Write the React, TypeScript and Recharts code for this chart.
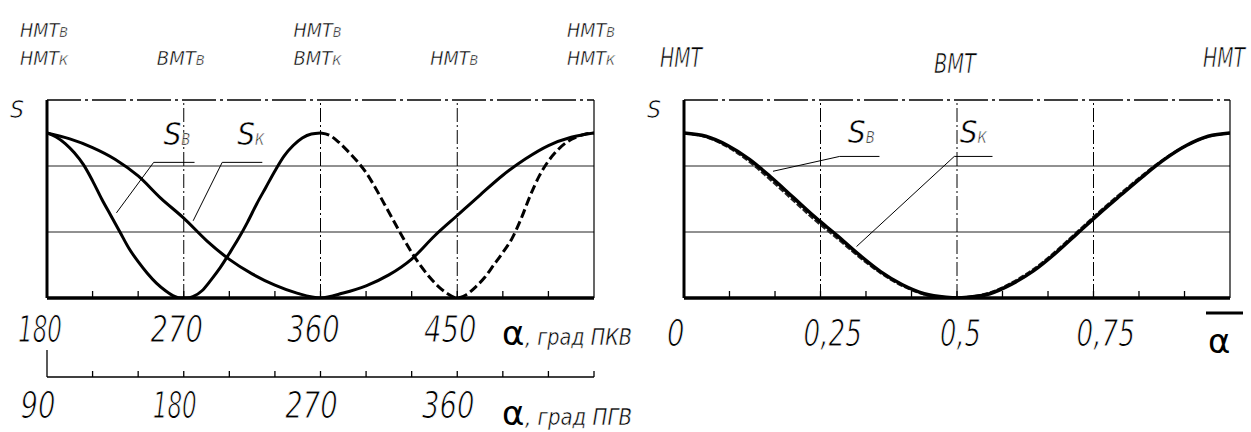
import React from 'react';
import { LineChart, Line, XAxis, YAxis, ReferenceLine, ReferenceDot } from 'recharts';

// ---------- data: left chart (crank angle, degrees) ----------
const SB_SOLID_A = [180, 186, 192, 198, 204, 210, 216, 222, 228, 234, 240, 246, 252, 258, 264, 268, 272, 276, 282, 288, 294, 300, 306, 312, 318, 324, 330, 336, 342, 348, 354, 360];
const SB_SOLID_S = [5, 4.88, 4.68, 4.4, 4.04, 3.55, 3.0, 2.5, 2.0, 1.5, 1.1, 0.75, 0.45, 0.22, 0.05, 0, 0, 0.04, 0.22, 0.55, 0.92, 1.35, 1.8, 2.3, 2.85, 3.35, 3.85, 4.3, 4.62, 4.85, 4.97, 5];
const SB_DASH_A = [360, 366, 372, 378, 384, 390, 396, 402, 408, 414, 420, 426, 432, 438, 444, 448, 450, 452, 456, 462, 468, 474, 480, 486, 492, 498, 504, 510, 516, 522, 528, 534, 540];
const SB_DASH_S = [5, 4.93, 4.72, 4.45, 4.15, 3.8, 3.35, 2.85, 2.35, 1.85, 1.38, 0.97, 0.62, 0.33, 0.12, 0.02, 0, 0.02, 0.1, 0.33, 0.62, 1.0, 1.38, 1.8, 2.4, 3.1, 3.7, 4.15, 4.48, 4.72, 4.87, 4.96, 5];
const SK_A = [180, 195, 210, 225, 240, 255, 270, 285, 300, 315, 330, 345, 360, 375, 390, 405, 420, 435, 450, 465, 480, 495, 510, 525, 540];
const SK_S = [5, 4.82, 4.56, 4.2, 3.7, 3.02, 2.42, 1.74, 1.17, 0.73, 0.39, 0.14, 0, 0.15, 0.37, 0.7, 1.18, 1.88, 2.5, 3.12, 3.72, 4.22, 4.62, 4.87, 5];

const PKV_TICKS = [180, 210, 240, 270, 300, 330, 360, 390, 420, 450, 480, 510, 540];
const PKV_LABELS = ['180', '', '', '270', '', '', '360', '', '', '450', '', '', ''];
const PGV_TICKS = [90, 120, 150, 180, 210, 240, 270, 300, 330, 360, 390, 420, 450];
const PGV_LABELS = ['90', '', '', '180', '', '', '270', '', '', '360', '', '', ''];
const TOP_L_TICKS = [180, 270, 360, 450, 540];
const TOP_L_ROW1 = ['НМТ', '', 'НМТ', '', 'НМТ'];
const TOP_L_ROW1_SUB = ['В', '', 'В', '', 'В'];
const TOP_L_ROW2 = ['НМТ', 'ВМТ', 'ВМТ', 'НМТ', 'НМТ'];
const TOP_L_ROW2_SUB = ['К', 'В', 'К', 'В', 'К'];
const L_MARKS = [270, 360, 450];
const GRID_LEVELS = [2, 4];
const TOP_LEVEL = 6;
const L_SB_LEADER = [[277.1, 4.11], [250.2, 4.11], [225.7, 2.58]];
const L_SK_LEADER = [[321.7, 4.11], [295.3, 4.11], [276.2, 2.34]];
const L_SB_LABEL = [256.6, 4.64];
const L_SK_LABEL = [305.2, 4.64];

// ---------- data: right chart (relative angle) ----------
const R_A = [0, 0.04, 0.08, 0.12, 0.16, 0.2, 0.24, 0.28, 0.32, 0.36, 0.4, 0.44, 0.48, 0.5, 0.52, 0.56, 0.6, 0.64, 0.68, 0.72, 0.76, 0.8, 0.84, 0.88, 0.92, 0.96, 1];
const R_SB = [5, 4.9, 4.62, 4.2, 3.65, 3.05, 2.45, 1.9, 1.32, 0.8, 0.4, 0.13, 0.02, 0, 0.02, 0.13, 0.42, 0.82, 1.35, 1.95, 2.55, 3.12, 3.68, 4.2, 4.62, 4.9, 5];
const R_SK = [5, 4.88, 4.58, 4.13, 3.56, 2.96, 2.36, 1.82, 1.26, 0.76, 0.37, 0.11, 0.02, 0, 0.03, 0.16, 0.46, 0.87, 1.4, 2.0, 2.6, 3.17, 3.72, 4.22, 4.62, 4.89, 5];
const ALPHA_TICKS = [0, 0.0833, 0.1667, 0.25, 0.3333, 0.4167, 0.5, 0.5833, 0.6667, 0.75, 0.8333, 0.9167, 1];
const ALPHA_LABELS = ['0', '', '', '0,25', '', '', '0,5', '', '', '0,75', '', '', ''];
const TOP_R_TICKS = [0, 0.5, 1];
const TOP_R_LABELS = ['НМТ', 'ВМТ', 'НМТ'];
const R_MARKS = [0.25, 0.5, 0.75];
const R_SB_LEADER = [[0.358, 4.29], [0.285, 4.29], [0.163, 3.84]];
const R_SK_LEADER = [[0.565, 4.29], [0.495, 4.29], [0.316, 1.56]];
const R_SB_LABEL = [0.3, 4.7];
const R_SK_LABEL = [0.505, 4.7];

const toRows = (xs: number[], ys: number[]) => xs.map((a, i) => ({ a, s: ys[i] }));
const seg = (p: number[][], i: number) => [{ x: p[i][0], y: p[i][1] }, { x: p[i + 1][0], y: p[i + 1][1] }];

const FONT = "'DejaVu Sans', 'Liberation Sans', 'Noto Sans', sans-serif";
const INK = '#000';
const DASH_DOT_H = '34 4 3 4';
const DASH_DOT_V = '14 3 2 3';

const charW = (c: string) => (c === '1' ? 9 : c === ',' ? 6 : 17.5);
const strW = (t: string) => t.split('').reduce((s, c) => s + charW(c), 0);

// thin strokes: a white outline painted over the fill narrows the glyphs
const GText = ({ x, y, size, len, children, thinW = 0.7 }: any) => (
  <text x={x} y={y} fontFamily={FONT} fontSize={size} fontStyle="italic"
    textLength={len} lengthAdjust="spacingAndGlyphs" fill={INK} stroke="#fff" strokeWidth={thinW}>{children}</text>
);

const NumText = ({ x, y, text }: any) => {
  const w = strW(text);
  return <GText x={x - w / 2} y={y} size={38} len={w} thinW={1.1}>{text}</GText>;
};

const SubText = ({ x, y, main, sub, size, mainLen, subSize, subLen }: any) => (
  <text x={x} y={y} fontFamily={FONT} fontSize={size} fontStyle="italic" fill={INK} stroke="#fff" strokeWidth={0.5}
    textLength={mainLen + subLen + 1} lengthAdjust="spacingAndGlyphs">
    {main}
    {sub ? <tspan fontSize={subSize}>{sub}</tspan> : null}
  </text>
);

const AxisName = ({ x, y, text }: any) => (
  <g>
    <text x={x} y={y} fontFamily={FONT} fontSize={34} fill={INK}>α</text>
    <GText x={x + 23} y={y} size={23} len={107} thinW={0.5}>{text}</GText>
  </g>
);

const PkvTick = (props: any) => {
  const { x, y, payload } = props;
  const v = payload.value;
  const i = PKV_TICKS.indexOf(v);
  const label = PKV_LABELS[i] || '';
  const first = i === 0;
  const last = i === PKV_TICKS.length - 1;
  return (
    <g>
      {!first && !last && <line x1={x} x2={x} y1={y} y2={y - 7} stroke={INK} strokeWidth={1.3} />}
      {label && <NumText x={x - 7} y={y + 44} text={label} />}
      {last && <AxisName x={x - 92} y={y + 47} text=",  град ПКВ" />}
    </g>
  );
};

const PgvTick = (props: any) => {
  const { x, y, payload } = props;
  const v = payload.value;
  const i = PGV_TICKS.indexOf(v);
  const label = PGV_LABELS[i] || '';
  const first = i === 0;
  const last = i === PGV_TICKS.length - 1;
  return (
    <g>
      <line x1={x} x2={x} y1={y} y2={first ? y - 27 : y - 6} stroke={INK} strokeWidth={1.3} />
      {label && <NumText x={x - 9} y={y + 41} text={label} />}
      {last && <AxisName x={x - 92} y={y + 48} text=",  град ПГВ" />}
    </g>
  );
};

const TopLTick = (props: any) => {
  const { x, y, payload } = props;
  const i = TOP_L_TICKS.indexOf(payload.value);
  return (
    <g>
      {TOP_L_ROW1[i] && <SubText x={x - 27} y={y - 63} main={TOP_L_ROW1[i]} sub={TOP_L_ROW1_SUB[i]} size={20} mainLen={37} subSize={14.5} subLen={10} />}
      {TOP_L_ROW2[i] && <SubText x={x - 27} y={y - 35} main={TOP_L_ROW2[i]} sub={TOP_L_ROW2_SUB[i]} size={20} mainLen={37} subSize={14.5} subLen={10} />}
    </g>
  );
};

const TOP_R_DY = [-33, -27, -33];
const TOP_R_DX = [-24, -23, -27];
const TopRTick = (props: any) => {
  const { x, y, payload } = props;
  const i = TOP_R_TICKS.indexOf(payload.value);
  return <GText x={x + TOP_R_DX[i]} y={y + TOP_R_DY[i]} size={26} len={42}>{TOP_R_LABELS[i]}</GText>;
};

const AlphaTick = (props: any) => {
  const { x, y, payload } = props;
  const i = ALPHA_TICKS.indexOf(payload.value);
  const label = ALPHA_LABELS[i] || '';
  const first = i === 0;
  const last = i === ALPHA_TICKS.length - 1;
  return (
    <g>
      {!first && !last && <line x1={x} x2={x} y1={y} y2={y - 7} stroke={INK} strokeWidth={1.3} />}
      {label && <GText x={x - 17} y={y + 48} size={38} len={strW(label)} thinW={1.1}>{label}</GText>}
      {last && (
        <g>
          <line x1={x - 24} x2={x + 13} y1={y + 15} y2={y + 15} stroke={INK} strokeWidth={3} />
          <text x={x - 22} y={y + 55} fontFamily={FONT} fontSize={34} fill={INK}>α</text>
        </g>
      )}
    </g>
  );
};

const STick = (props: any) => {
  const { x, y } = props;
  return <GText x={x - 37} y={y + 18} size={25} len={14}>S</GText>;
};

const labelShape = (sub: string) => (p: any) => (
  <text x={p.cx} y={p.cy} fontFamily={FONT} fontStyle="italic" fill={INK} stroke="#fff" strokeWidth={0.6}
    textLength={27} lengthAdjust="spacingAndGlyphs">
    <tspan fontSize={32}>S</tspan>
    <tspan fontSize={15}>{sub}</tspan>
  </text>
);

const thin = { stroke: INK, strokeWidth: 1 };

function LeftChart() {
  return (
    <LineChart width={650} height={432} margin={{ top: 0, right: 56, bottom: 0, left: 0 }}>
      <XAxis xAxisId="top" orientation="top" type="number" dataKey="a" domain={[180, 540]} allowDataOverflow
        ticks={TOP_L_TICKS} interval={0} height={100} axisLine={false} tickLine={false} tickSize={0} tickMargin={0} tick={<TopLTick />} />
      <XAxis xAxisId={0} type="number" dataKey="a" domain={[180, 540]} allowDataOverflow ticks={PKV_TICKS} interval={0}
        height={79} axisLine={{ stroke: INK, strokeWidth: 3.5 }} tickLine={false} tickSize={0} tickMargin={0} tick={<PkvTick />} />
      <XAxis xAxisId="pgv" type="number" dataKey="a" domain={[90, 450]} allowDataOverflow ticks={PGV_TICKS} interval={0}
        height={55} axisLine={{ stroke: INK, strokeWidth: 1.5 }} tickLine={false} tickSize={0} tickMargin={0} tick={<PgvTick />} />
      <YAxis type="number" domain={[0, 6]} allowDataOverflow ticks={[TOP_LEVEL]} width={47}
        axisLine={{ stroke: INK, strokeWidth: 3 }} tickLine={false} tickSize={0} tickMargin={0} tick={<STick />} />
      {GRID_LEVELS.map((g) => <ReferenceLine key={'g' + g} y={g} stroke="#222" strokeWidth={1} />)}
      <ReferenceLine y={TOP_LEVEL} stroke={INK} strokeWidth={1.3} strokeDasharray={DASH_DOT_H} />
      {L_MARKS.map((m) => <ReferenceLine key={'m' + m} x={m} stroke={INK} strokeWidth={1} strokeDasharray={DASH_DOT_V} />)}
      <ReferenceLine x={540} stroke={INK} strokeWidth={1.2} />
      <ReferenceLine segment={seg(L_SB_LEADER, 0)} {...thin} />
      <ReferenceLine segment={seg(L_SB_LEADER, 1)} {...thin} />
      <ReferenceLine segment={seg(L_SK_LEADER, 0)} {...thin} />
      <ReferenceLine segment={seg(L_SK_LEADER, 1)} {...thin} />
      <ReferenceDot x={L_SB_LABEL[0]} y={L_SB_LABEL[1]} r={0} shape={labelShape('В')} />
      <ReferenceDot x={L_SK_LABEL[0]} y={L_SK_LABEL[1]} r={0} shape={labelShape('К')} />
      <Line data={toRows(SK_A, SK_S)} dataKey="s" type="monotone" stroke={INK} strokeWidth={3} dot={false} isAnimationActive={false} />
      <Line data={toRows(SB_SOLID_A, SB_SOLID_S)} dataKey="s" type="monotone" stroke={INK} strokeWidth={3} dot={false} isAnimationActive={false} />
      <Line data={toRows(SB_DASH_A, SB_DASH_S)} dataKey="s" type="monotone" stroke={INK} strokeWidth={3} strokeDasharray="9 4" dot={false} isAnimationActive={false} />
    </LineChart>
  );
}

function RightChart() {
  return (
    <LineChart width={611} height={432} margin={{ top: 0, right: 21, bottom: 0, left: 0 }}>
      <XAxis xAxisId="top" orientation="top" type="number" dataKey="a" domain={[0, 1]} allowDataOverflow
        ticks={TOP_R_TICKS} interval={0} height={100} axisLine={false} tickLine={false} tickSize={0} tickMargin={0} tick={<TopRTick />} />
      <XAxis xAxisId={0} type="number" dataKey="a" domain={[0, 1]} allowDataOverflow ticks={ALPHA_TICKS} interval={0}
        height={134} axisLine={{ stroke: INK, strokeWidth: 3.5 }} tickLine={false} tickSize={0} tickMargin={0} tick={<AlphaTick />} />
      <YAxis type="number" domain={[0, 6]} allowDataOverflow ticks={[TOP_LEVEL]} width={44}
        axisLine={{ stroke: INK, strokeWidth: 3 }} tickLine={false} tickSize={0} tickMargin={0} tick={<STick />} />
      {GRID_LEVELS.map((g) => <ReferenceLine key={'g' + g} y={g} stroke="#222" strokeWidth={1} />)}
      <ReferenceLine y={TOP_LEVEL} stroke={INK} strokeWidth={1.3} strokeDasharray={DASH_DOT_H} />
      {R_MARKS.map((m) => <ReferenceLine key={'m' + m} x={m} stroke={INK} strokeWidth={1} strokeDasharray={DASH_DOT_V} />)}
      <ReferenceLine x={1} stroke={INK} strokeWidth={1.2} />
      <ReferenceLine segment={seg(R_SB_LEADER, 0)} {...thin} />
      <ReferenceLine segment={seg(R_SB_LEADER, 1)} {...thin} />
      <ReferenceLine segment={seg(R_SK_LEADER, 0)} {...thin} />
      <ReferenceLine segment={seg(R_SK_LEADER, 1)} {...thin} />
      <ReferenceDot x={R_SB_LABEL[0]} y={R_SB_LABEL[1]} r={0} shape={labelShape('В')} />
      <ReferenceDot x={R_SK_LABEL[0]} y={R_SK_LABEL[1]} r={0} shape={labelShape('К')} />
      <Line data={toRows(R_A, R_SK)} dataKey="s" type="monotone" stroke="#222" strokeWidth={2.5} strokeDasharray="6 2" dot={false} isAnimationActive={false} />
      <Line data={toRows(R_A, R_SB)} dataKey="s" type="monotone" stroke={INK} strokeWidth={3.5} dot={false} isAnimationActive={false} />
    </LineChart>
  );
}

export default function App() {
  return (
    <div style={{ position: 'absolute', left: 0, top: 0, width: 1251, height: 432, background: '#fff', overflow: 'hidden' }}>
      <div style={{ position: 'absolute', left: 0, top: 0 }}><LeftChart /></div>
      <div style={{ position: 'absolute', left: 640, top: 0 }}><RightChart /></div>
    </div>
  );
}
